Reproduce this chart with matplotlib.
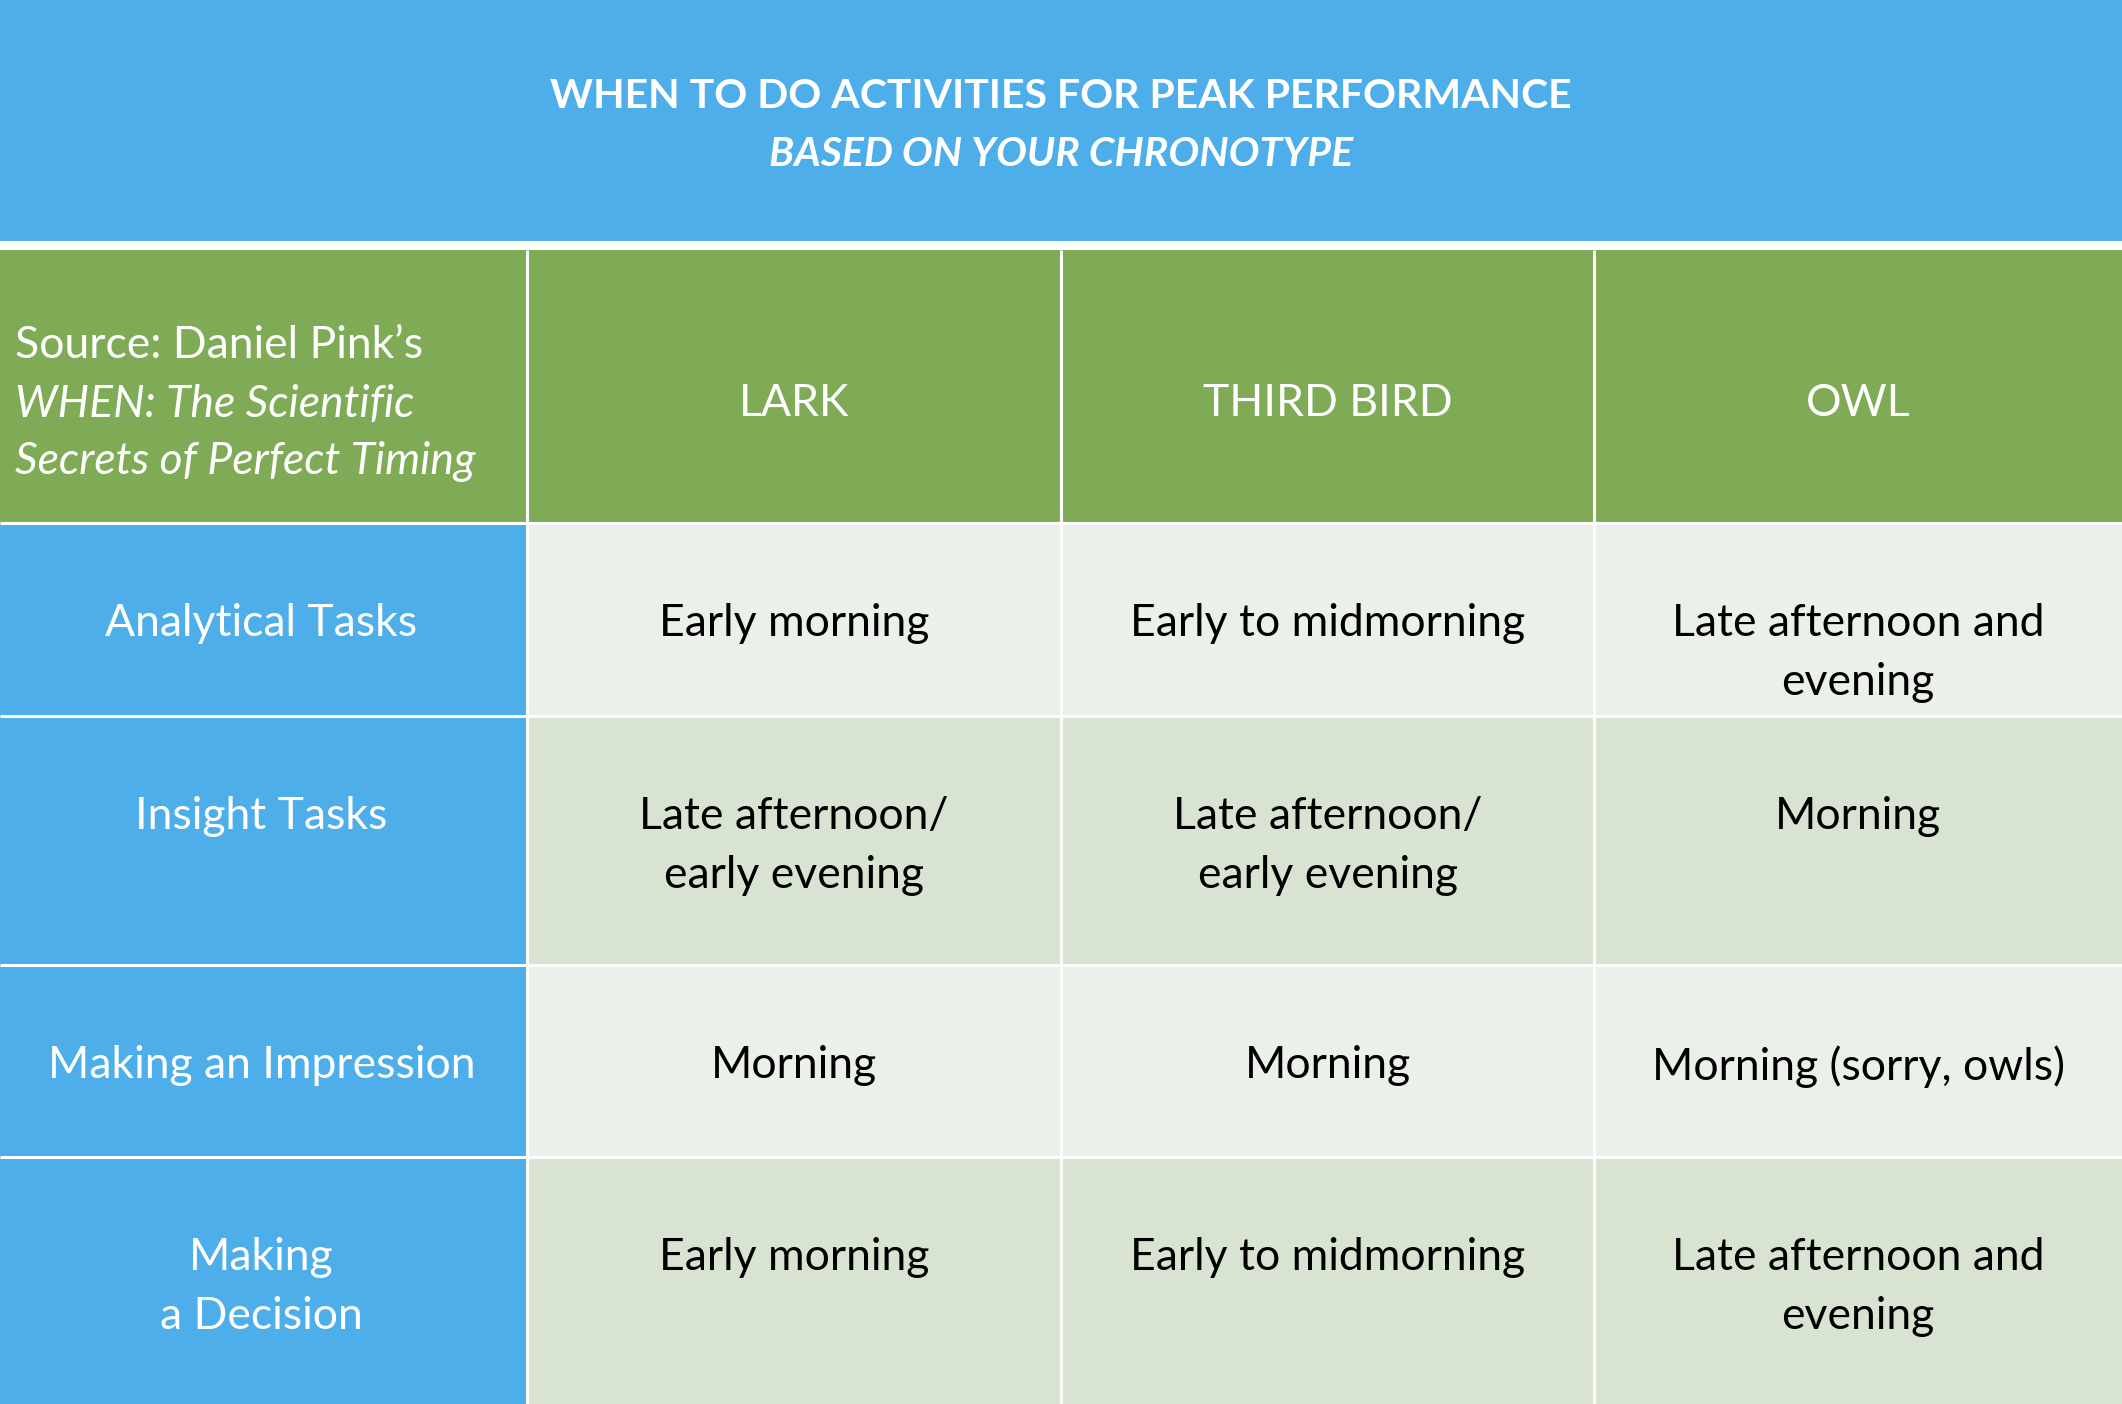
import matplotlib.pyplot as plt
from matplotlib.patches import Rectangle

plt.rcParams['font.family'] = ['Lato', 'DejaVu Sans']

title = "WHEN TO DO ACTIVITIES FOR PEAK PERFORMANCE"
subtitle = "BASED ON YOUR CHRONOTYPE"
source_lines = ["Source: Daniel Pink\u2019s", "WHEN: The Scientific", "Secrets of Perfect Timing"]
chronotypes = ["LARK", "THIRD BIRD", "OWL"]
activities = ["Analytical Tasks", "Insight Tasks", "Making an Impression", "Making\na Decision"]
lark = ["Early morning", "Late afternoon/\nearly evening", "Morning", "Early morning"]
third_bird = ["Early to midmorning", "Late afternoon/\nearly evening", "Morning", "Early to midmorning"]
owl = ["Late afternoon and\nevening", "Morning", "Morning (sorry, owls)", "Late afternoon and\nevening"]

BLUE = "#4daee9"
GREEN = "#7faa56"
LIGHT = ["#ecf0ea", "#d9e3d1"]

W, H = 2122, 1404
fig = plt.figure(figsize=(W / 100, H / 100), dpi=100)
ax = fig.add_axes([0, 0, 1, 1])
ax.set_xlim(0, W)
ax.set_ylim(H, 0)
ax.axis('off')

# title band
ax.add_patch(Rectangle((0, 0), W, 241, color=BLUE, lw=0))
ax.text(W / 2, 97, title, color='white', fontsize=29.5, fontweight='bold', ha='center', va='center')
ax.text(W / 2, 154, subtitle, color='white', fontsize=29.5, fontweight='bold', style='italic',
        ha='center', va='center')

col_edges = [0, 527, 1061, 1594, W]
row_edges = [250, 523, 716, 965, 1157, H]
columns = [lark, third_bird, owl]
fs = 32
ls = 1.55


def cell(x0, x1, y0, y1, color):
    ax.add_patch(Rectangle((x0, y0), x1 - x0, y1 - y0, facecolor=color, lw=0))


# header row
for c in range(4):
    cell(col_edges[c], col_edges[c + 1], row_edges[0], row_edges[1], GREEN)
hy = 404
for i, line in enumerate(source_lines):
    ax.text(15, hy + (i - 1) * 58, line, color='white', fontsize=fs, ha='left', va='center',
            style='normal' if i == 0 else 'italic')
for c, name in enumerate(chronotypes):
    xc = (col_edges[c + 1] + col_edges[c + 2]) / 2
    ax.text(xc, hy, name, color='white', fontsize=fs, ha='center', va='center')

# body rows
for r, act in enumerate(activities):
    y0, y1 = row_edges[r + 1], row_edges[r + 2]
    cell(col_edges[0], col_edges[1], y0, y1, BLUE)
    ty = y0 + 95 - 15
    ax.text((col_edges[0] + col_edges[1]) / 2 - 2, ty, act, color='white', fontsize=fs,
            ha='center', va='top', linespacing=ls)
    for c, col in enumerate(columns):
        cell(col_edges[c + 1], col_edges[c + 2], y0, y1, LIGHT[r % 2])
        ax.text((col_edges[c + 1] + col_edges[c + 2]) / 2, ty, col[r], color='black',
                fontsize=fs, ha='center', va='top', linespacing=ls)

# white grid lines between cells
ax.vlines(col_edges[1:-1], row_edges[0], H, color='white', lw=2.2)
ax.hlines(row_edges[1:-1], 0, W, color='white', lw=2.2)

fig.savefig('out.png', dpi=100)
